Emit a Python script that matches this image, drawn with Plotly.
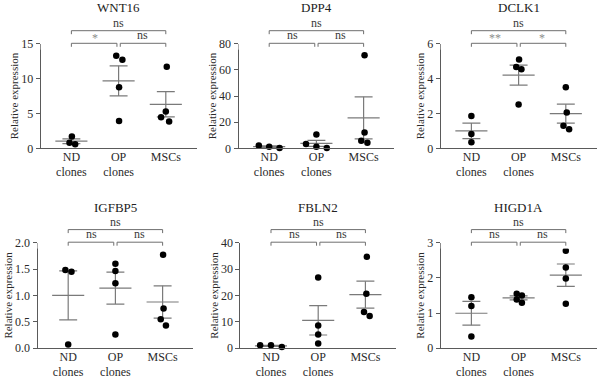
import numpy as np
import plotly.graph_objects as go

# ---------------- data ----------------
genes = ["WNT16", "DPP4", "DCLK1", "IGFBP5", "FBLN2", "HIGD1A"]
group_labels = ["ND<br>clones", "OP<br>clones", "MSCs"]

wnt16_nd = [1.68, 0.81, 0.57]
wnt16_op = [13.27, 12.7, 8.77, 3.93]
wnt16_msc = [11.69, 5.27, 4.46, 3.83]

dpp4_nd = [2.2, 1.2, 0.3]
dpp4_op = [10.5, 3.2, 1.2, 0.3]
dpp4_msc = [71.2, 12.0, 5.8, 4.3]

dclk1_nd = [1.85, 0.82, 0.34]
dclk1_op = [5.09, 4.67, 4.53, 2.51]
dclk1_msc = [3.5, 2.06, 1.3, 1.09]

igfbp5_nd = [1.48, 1.45, 0.07]
igfbp5_op = [1.6, 1.46, 1.23, 0.26]
igfbp5_msc = [1.77, 0.75, 0.55, 0.43]

fbln2_nd = [1.1, 1.1, 0.5]
fbln2_op = [26.75, 8.58, 5.17, 1.77]
fbln2_msc = [34.6, 20.6, 13.75, 12.24]

higd1a_nd = [1.45, 1.2, 0.33]
higd1a_op = [1.55, 1.5, 1.38, 1.29]
higd1a_msc = [2.77, 2.29, 1.98, 1.26]

# significance labels: (ND vs OP, OP vs MSCs, ND vs MSCs)
wnt16_sig = ["*", "ns", "ns"]
dpp4_sig = ["ns", "ns", "ns"]
dclk1_sig = ["**", "*", "ns"]
igfbp5_sig = ["ns", "ns", "ns"]
fbln2_sig = ["ns", "ns", "ns"]
higd1a_sig = ["ns", "ns", "ns"]

# y axis ticks
wnt16_ticks = [0, 5, 10, 15]
dpp4_ticks = [0, 20, 40, 60, 80]
dclk1_ticks = [0, 2, 4, 6]
igfbp5_ticks = [0.0, 0.5, 1.0, 1.5, 2.0]
fbln2_ticks = [0, 10, 20, 30, 40]
higd1a_ticks = [0, 1, 2, 3]

# horizontal scatter of dots (category units)
wnt16_jit = [[0.01, -0.04, 0.08], [-0.05, 0.08, 0.01, 0.01], [0.02, 0.0, -0.1, 0.07]]
dpp4_jit = [[-0.22, 0.0, 0.22], [0.0, -0.22, 0.0, 0.22], [0.02, 0.02, -0.05, 0.08]]
dclk1_jit = [[0.0, 0.0, 0.0], [0.01, -0.05, 0.06, 0.0], [0.0, 0.02, -0.05, 0.07]]
igfbp5_jit = [[-0.06, 0.07, 0.0], [0.0, 0.0, 0.0, 0.0], [0.01, 0.02, -0.04, 0.07]]
fbln2_jit = [[-0.23, 0.0, 0.23], [0.0, 0.0, 0.0, 0.0], [0.03, 0.02, -0.03, 0.09]]
higd1a_jit = [[0.0, 0.0, 0.0], [-0.04, 0.07, -0.04, 0.07], [0.0, 0.0, 0.0, 0.0]]

panels = [
    ("WNT16", [wnt16_nd, wnt16_op, wnt16_msc], wnt16_sig, wnt16_ticks, wnt16_jit, "d"),
    ("DPP4", [dpp4_nd, dpp4_op, dpp4_msc], dpp4_sig, dpp4_ticks, dpp4_jit, "d"),
    ("DCLK1", [dclk1_nd, dclk1_op, dclk1_msc], dclk1_sig, dclk1_ticks, dclk1_jit, "d"),
    ("IGFBP5", [igfbp5_nd, igfbp5_op, igfbp5_msc], igfbp5_sig, igfbp5_ticks, igfbp5_jit, ".1f"),
    ("FBLN2", [fbln2_nd, fbln2_op, fbln2_msc], fbln2_sig, fbln2_ticks, fbln2_jit, "d"),
    ("HIGD1A", [higd1a_nd, higd1a_op, higd1a_msc], higd1a_sig, higd1a_ticks, higd1a_jit, "d"),
]

# ---------------- layout geometry (pixels) ----------------
W, H = 600, 378
FONT = "Liberation Serif, Times New Roman, DejaVu Serif, serif"
lefts = [40.7, 238.5, 440.7, 37.5, 240.3, 440.7]
tops = [43.7, 43.7, 43.7, 242.6, 242.6, 242.6]
bottoms = [148.3, 148.3, 148.3, 348.2, 348.2, 348.2]
title_y = [7.5, 7.5, 7.5, 207.5, 207.5, 207.5]
PW = 155.8
XR = [-0.65, 2.65]

AX_COL = "#5a5a5a"
ERR_COL = "#7a7a7a"
BR_COL = "#6e6e6e"
TXT = "#2a2a2a"

fig = go.Figure()
layout = dict(
    template="none",
    width=W, height=H, margin=dict(l=0, r=0, t=0, b=0, pad=0),
    paper_bgcolor="white", plot_bgcolor="white", showlegend=False,
    font=dict(family=FONT, size=12, color=TXT), hovermode=False,
)
annotations = []

for k, (gene, groups, sig, ticks, jit, fmt) in enumerate(panels):
    i = k + 1
    xa = "x" if i == 1 else f"x{i}"
    ya = "y" if i == 1 else f"y{i}"
    yb_id = i + 6
    yb = f"y{yb_id}"
    x0, x1 = lefts[k] / W, (lefts[k] + PW) / W
    yd0, yd1 = 1 - bottoms[k] / H, 1 - tops[k] / H
    # bracket axis: units = pixels above plot top, domain from -6 to +19
    bd0, bd1 = 1 - (tops[k] + 6) / H, 1 - (tops[k] - 19) / H

    layout[f"xaxis{'' if i == 1 else i}"] = dict(
        domain=[x0, x1], anchor=ya, range=XR, tickmode="array",
        tickvals=[0, 1, 2], ticktext=group_labels, showline=True,
        linecolor=AX_COL, linewidth=1, ticks="", showgrid=False, zeroline=False,
        tickfont=dict(family=FONT, size=12, color=TXT), fixedrange=True,
        automargin=False, ticklabelstandoff=-3,
    )
    tick_text = [format(t, ".1f") if fmt == ".1f" else str(int(t)) for t in ticks]
    layout[f"yaxis{'' if i == 1 else i}"] = dict(
        domain=[yd0, yd1], anchor=xa, range=[ticks[0], ticks[-1]],
        tickmode="array", tickvals=ticks, ticktext=tick_text,
        showline=True, linecolor=AX_COL, linewidth=1, ticks="outside",
        ticklen=4, tickcolor=AX_COL, showgrid=False, zeroline=False,
        tickfont=dict(family=FONT, size=12, color=TXT), automargin=False,
        fixedrange=True,
        title=dict(text="Relative expression", font=dict(family=FONT, size=11, color=TXT), standoff=0),
    )
    layout[f"yaxis{yb_id}"] = dict(
        domain=[bd0, bd1], anchor=xa, range=[-6, 19], visible=False, fixedrange=True,
        automargin=False,
    )

    # mean and SEM lines
    for g, vals in enumerate(groups):
        v = np.array(vals, dtype=float)
        m = v.mean()
        s = v.std(ddof=1) / np.sqrt(len(v))
        fig.add_trace(go.Scatter(
            x=[g - 0.34, g + 0.34], y=[m, m], mode="lines",
            line=dict(color=ERR_COL, width=1.2), xaxis=xa, yaxis=ya, hoverinfo="skip"))
        fig.add_trace(go.Scatter(
            x=[g - 0.19, g + 0.19, None, g, g, None, g - 0.19, g + 0.19],
            y=[m + s, m + s, None, m + s, m - s, None, m - s, m - s], mode="lines",
            line=dict(color=ERR_COL, width=1.2), xaxis=xa, yaxis=ya, hoverinfo="skip"))
    # points
    for g, vals in enumerate(groups):
        fig.add_trace(go.Scatter(
            x=[g + d for d in jit[g]], y=vals, mode="markers",
            marker=dict(color="black", size=6.5, line=dict(width=0)), cliponaxis=False,
            xaxis=xa, yaxis=ya))

    # significance brackets (bracket axis units = px above plot top)
    lo, hi, tl = 0.4, 13.0, 3.5
    gap = 0.035
    br_x = [0, 0, 1 - gap, 1 - gap, None, 1 + gap, 1 + gap, 2, 2, None, 0, 0, 2, 2]
    br_y = [lo - tl, lo, lo, lo - tl, None, lo - tl, lo, lo, lo - tl, None,
            hi - tl, hi, hi, hi - tl]
    fig.add_trace(go.Scatter(
        x=br_x, y=br_y, mode="lines", line=dict(color=BR_COL, width=1),
        xaxis=xa, yaxis=yb, hoverinfo="skip"))
    for (xc, yc, lab) in [(0.5, lo, sig[0]), (1.5, lo, sig[1]), (1.0, hi, sig[2])]:
        star = lab != "ns"
        annotations.append(dict(
            x=xc, y=yc, xref=xa, yref=yb, text=lab, showarrow=False,
            yanchor="bottom", yshift=(-4 if star else -1),
            font=dict(family=FONT, size=12,
                      color="#8c8c8c" if star else "#3a3a3a"),
        ))
    # panel title
    annotations.append(dict(
        x=1, y=1 - title_y[k] / H, xref=xa, yref="paper", text=gene,
        showarrow=False, yanchor="middle",
        font=dict(family=FONT, size=13, color="#222")))

layout["annotations"] = annotations
fig.update_layout(**layout)
fig.write_html(
    "out.html",
    config={"displayModeBar": False, "staticPlot": True},
    post_script="document.body.style.margin='0';document.body.style.overflow='hidden';",
)
